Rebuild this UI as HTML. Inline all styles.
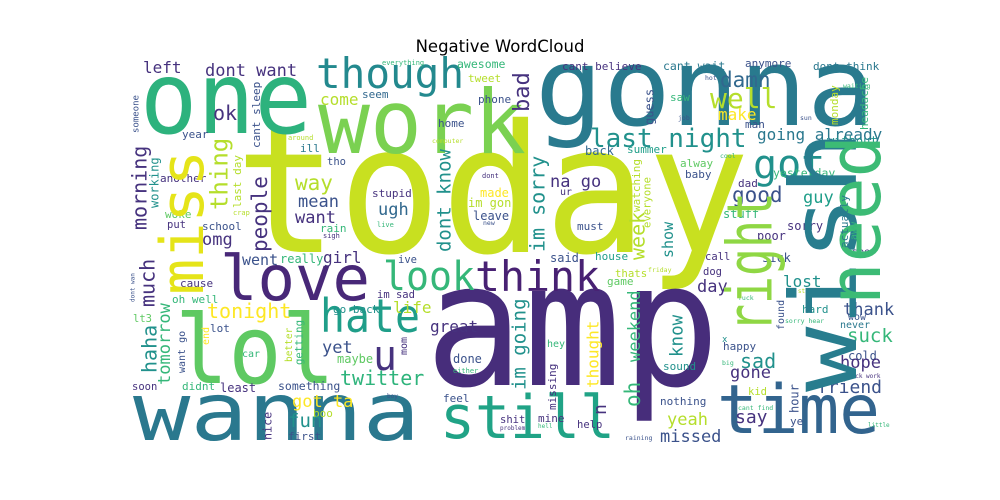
<!DOCTYPE html>
<html><head><meta charset="utf-8"><title>Negative WordCloud</title>
<style>
html,body{margin:0;padding:0;background:#fff;}
#wrap{position:relative;width:1000px;height:500px;overflow:hidden;background:#fff;}
svg text{font-family:"DejaVu Sans Mono","Liberation Mono",monospace;}
</style></head>
<body>
<div id="wrap">
<svg id="cloud" width="1000" height="500" viewBox="0 0 1000 500">
<rect x="0" y="0" width="1000" height="500" fill="#ffffff"></rect>
<text x="500" y="52" text-anchor="middle" style="font-family:'DejaVu Sans','Liberation Sans',sans-serif;font-size:16.5px" fill="#000">Negative WordCloud</text>
<g id="words"></g>
</svg>
</div>
<script>
// [text, x, y, size, color, rotated, textLength]
const P='#46327e',B='#3b528b',BB='#31688e',T='#21918c',TD='#2a788e',G='#35b779',GL='#5ec962',YG='#b5de2b',Y='#fde725',TG='#1f9e89',LG='#7ad151';
const words=[
['today',235,252,178,'#c8e020',0,515],
['amp',425,385,172,'#472d7b',0,295],
['gonna',535,125,108,'#297a8e',0,340],
['one',140,133,100,'#2db27d',0,172],
['work',318,153,88,LG,0,208],
['wanna',133,440,80,TD,0,287],
['still',440,438,60,'#20a386',0,175],
['time',717,433,68,'#32648e',0,163],
['love',220,300,62,'#482878',0,150],
['lol',175,383,95,GL,0,160],
['though',316,88,42,'#23898e',0,148],
['hate',320,332,46,TG,0,100],
['look',383,290,40,G,0,92],
['think',475,291,42,'#482173',0,125],
['u',373,370,42,P,0,24],
['left',143,73,16,P,0],['dont want',205,76,17,P,0],['ok',213,120,20,P,0],
['come',320,105,16,YG,0],['seem',362,98,11,BB,0],['awesome',457,68,11.5,G,0],
['tweet',468,82,11,YG,0],['phone',478,103,11,B,0],['everything',382,65,7,G,0],
['year',182,138,11,B,0],['home',438,127,11,B,0],['around',288,140,7,YG,0],
['computer',432,143,6.5,YG,0],['ill',300,152,11,TD,0],['tho',327,165,10.5,B,0],
['another',160,182,11,P,0],['way',295,190,21,YG,0],['mean',298,207,17,B,0],
['ugh',378,215,17,BB,0],['want',295,223,17,P,0],['stupid',372,197,11,P,0],
['made',480,197,12,Y,0],['im gon',468,207,12,YG,0],['leave',473,220,12,B,0],
['woke',165,218,11,GL,0],['put',167,228,10.5,P,0],['school',202,230,11,B,0],
['omg',202,245,17,P,0],['rain',320,232,11,G,0],['sigh',323,238,7,P,0],
['live',377,227,7,G,0],['crap',233,215,7,YG,0],['dont',482,178,7,P,0],['new',483,225,6.5,B,0],
['girl',323,263,16,P,0],
['last night',590,147,26,T,0],['got',753,178,40,T,0],['well',710,108,28,YG,0],
['damn',720,87,21,BB,0],['make',718,120,16,Y,0],['cant believe',562,70,11,P,0],
['cant wait',663,70,11.5,TD,0],['anymore',745,67,11,B,0],['dont think',813,70,11,TD,0],
['going already',757,140,16,TD,0],['without',827,145,12,T,0],['na go',550,187,17,P,0],
['good',732,202,21,B,0],['guy',803,203,17,TG,0],['yesterday',773,177,11.5,G,0],
['baby',685,178,11,B,0],['alway',680,167,11,GL,0],['summer',627,153,11,TG,0],
['back',585,155,12,BB,0],['stuff',723,218,12,G,0],['sorry',787,230,12,P,0],
['poor',757,240,12,P,0],['must',577,230,11,B,0],['dad',738,187,11,P,0],['ur',560,195,10,P,0],
['saw',670,101,11,G,0],['man',745,128,11,B,0],['job',678,120,6.5,B,0],['hot',705,80,6.5,B,0],
['waiting',843,88,6.5,G,0],['sun',800,120,6.5,B,0],['cool',720,158,6.5,G,0],['may',850,185,6.5,P,0],
['wow',848,320,10,B,0],['see',852,255,10,P,0],
['went',242,265,15,B,0],['really',280,263,12,G,0],['ive',398,263,10.5,B,0],
['cause',180,287,11,P,0],['oh well',172,303,11,G,0],['im sad',377,298,10.5,P,0],
['tonight',207,318,20,Y,0],['life',393,313,16,YG,0],['go back',333,313,11,T,0],
['lt3',133,322,10.5,GL,0],['great',430,332,16,P,0],['lot',210,332,11,B,0],
['car',242,357,10,G,0],['yet',322,353,17,B,0],['maybe',337,363,12,GL,0],
['done',453,363,12,B,0],['either',453,373,7,G,0],['twitter',340,385,20,'#2fb47c',0],
['soon',132,390,10.5,P,0],['didnt',182,390,11,G,0],['least',220,392,12,P,0],
['something',278,390,11.5,B,0],['boy',387,398,6,B,0],['feel',443,402,11,B,0],
['got ta',292,407,17,Y,0],['boo',313,417,11,YG,0],['fun',288,427,19,T,0],['first',288,440,11,B,0],
['said',550,262,12,B,0],['house',595,260,11,TG,0],['call',705,260,10.5,P,0],
['sick',762,262,12,B,0],['friday',648,272,6.5,YG,0],['dog',703,275,10.5,P,0],
['thats',615,277,10.7,YG,0],['game',607,285,11,GL,0],['day',697,292,17,P,0],
['lost',783,287,16,T,0],['im still',787,293,6,YG,0],['fuck',738,300,6.5,G,0],
['hard',802,313,11,T,0],['thank',843,315,17,B,0],['sorry hear',785,323,6.5,G,0],
['never',840,328,10,TD,0],['suck',847,342,19,G,0],['cold',848,360,12,B,0],
['hope',840,368,17,P,0],['friend',817,393,18,B,0],['back work',848,378,6,P,0],
['hey',547,347,10,G,0],['x',722,342,9,T,0],['happy',723,350,11,B,0],
['sad',740,368,20,T,0],['gone',730,378,17,P,0],['big',722,365,6.5,G,0],
['sound',663,370,11,T,0],['kid',748,395,10.5,YG,0],['nothing',660,405,11,B,0],
['shit',500,423,10.5,P,0],['mine',538,422,11,P,0],['yeah',667,425,17,YG,0],
['say',735,423,18,P,0],['cant find',738,410,6.5,G,0],['ye',790,425,11,B,0],
['help',577,428,10.5,P,0],['problem',500,430,6,P,0],['hell',538,428,6,G,0],
['missed',660,442,17,B,0],['raining',625,440,6.5,B,0],['little',868,427,6,G,0],
// rotated words: x = left edge, y = bottom
['wish',790,392,92,'#287d8e',1,262],
['need',828,305,72,'#3cbb75',1,170],
['right',727,332,62,'#8fd744',1,140],
['miss',160,295,60,'#e5e419',1,145],
['bad',513,112,22,P,1],['im sorry',530,252,20,T,1],['watching',632,212,11,YG,1],
['everyone',643,228,10.6,YG,1],['actually',840,248,11,TD,1],['show',662,258,15,T,1],
['guess',645,125,12,B,1],['monday',830,125,11,YG,1],['headache',860,130,11,G,1],
['aww',850,240,10,G,1],['cant sleep',252,148,11,B,1],['someone',132,133,9,B,1],
['morning',132,230,20,P,1],['working',150,208,12,T,1],['thing',210,210,24,YG,1],
['last day',233,208,11,YG,1],['people',252,252,21,P,1],['dont know',437,252,19,T,1],
['much',140,307,20,P,1],['dont wan',130,302,6,B,1],['haha',142,373,20,T,1],
['tomorrow',158,385,17,G,1],['end',202,345,10,Y,1],['want go',178,373,10,B,1],
['better',285,362,9.5,YG,1],['getting',295,365,10.7,G,1],['mom',400,355,10,P,1],
['nice',263,440,11.7,P,1],['found',777,330,10,B,1],['thought',587,388,16,Y,1],
['weekend',628,362,17,G,1],['know',670,357,17.5,T,1],['im going',512,390,19,T,1],
['missing',548,410,11,P,1],['oh',625,407,21,G,1],['hour',790,413,12,B,1],
['n',593,415,18,P,1],['week',630,260,20,YG,1]
];
const g=document.getElementById('words');
const NS='http://www.w3.org/2000/svg';
words.forEach(w=>{
  const [txt,x,y,s,c,rot,len]=w;
  const t=document.createElementNS(NS,'text');
  
  
  t.setAttribute('font-size',s);
  t.setAttribute('fill',c);
  t.textContent=txt;
  if(len){t.setAttribute('textLength',len);t.setAttribute('lengthAdjust','spacingAndGlyphs');}
  if(rot){
    const bx=x+0.72*s;
    t.setAttribute('x',bx);t.setAttribute('y',y);
    t.setAttribute('transform','rotate(-90 '+bx+' '+y+')');
  } else {
    t.setAttribute('x',x);t.setAttribute('y',y);
  }
  g.appendChild(t);
});
</script>
</body></html>
